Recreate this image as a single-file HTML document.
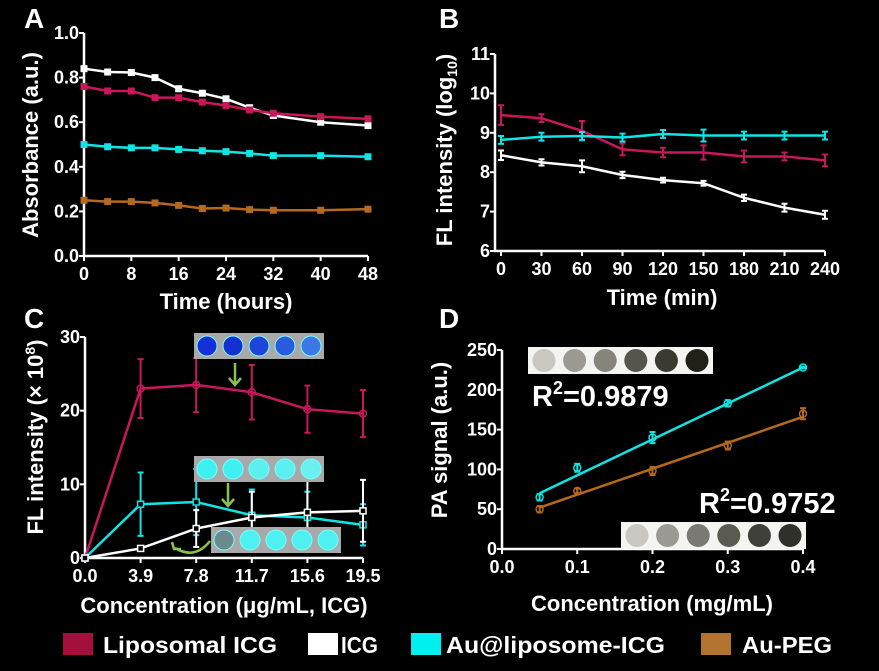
<!DOCTYPE html>
<html><head><meta charset="utf-8"><style>
html,body{margin:0;padding:0;background:#000;}
svg{display:block;font-family:"Liberation Sans",sans-serif;font-weight:bold;}
</style></head><body>
<svg id="fig" width="879" height="671" viewBox="0 0 879 671" xmlns="http://www.w3.org/2000/svg">
<rect width="879" height="671" fill="#000"/>
<text x="24" y="28" font-size="28" fill="#fff">A</text>
<text x="439" y="28" font-size="28" fill="#fff">B</text>
<text x="24" y="328" font-size="28" fill="#fff">C</text>
<text x="439" y="328" font-size="28" fill="#fff">D</text>
<g id="gA"></g>
<g id="gB"></g>
<g id="gC"></g>
<g id="gD"></g>
<g>
<rect x="63" y="633" width="30" height="22" fill="#a50f3c"/>
<text x="103" y="653" font-size="23" fill="#fff" textLength="174" lengthAdjust="spacingAndGlyphs">Liposomal ICG</text>
<rect x="308" y="633" width="30" height="22" fill="#fff"/>
<text x="341" y="653" font-size="23" fill="#fff" textLength="37" lengthAdjust="spacingAndGlyphs">ICG</text>
<rect x="411" y="633" width="30" height="22" fill="#00f0f0"/>
<text x="446" y="653" font-size="23" fill="#fff" textLength="219" lengthAdjust="spacingAndGlyphs">Au@liposome-ICG</text>
<rect x="701" y="633" width="30" height="22" fill="#b3732e"/>
<text x="742" y="653" font-size="23" fill="#fff" textLength="90" lengthAdjust="spacingAndGlyphs">Au-PEG</text>
</g>
</svg>
<script>
// ---------- Panel A data ----------
const aX = [0,4,8,12,16,20,24,28,32,40,48];
const aWhite = [0.84,0.825,0.823,0.80,0.75,0.73,0.705,0.665,0.63,0.60,0.585];
const aRed = [0.76,0.74,0.74,0.71,0.71,0.69,0.675,0.655,0.64,0.625,0.615];
const aCyan = [0.50,0.49,0.485,0.485,0.478,0.472,0.468,0.46,0.45,0.45,0.445];
const aOrange = [0.25,0.244,0.244,0.238,0.227,0.213,0.215,0.208,0.205,0.205,0.21];
const aXTicks = [0,8,16,24,32,40,48];
const aYTicks = ["0.0","0.2","0.4","0.6","0.8","1.0"];
// ---------- Panel B data ----------
const bX = [0,30,60,90,120,150,180,210,240];
const bRed = [9.45,9.37,9.05,8.58,8.5,8.5,8.4,8.4,8.3];
const bRedErr = [0.25,0.1,0.25,0.15,0.12,0.18,0.15,0.1,0.15];
const bCyan = [8.82,8.9,8.92,8.88,8.97,8.93,8.93,8.93,8.93];
const bCyanErr = [0.1,0.1,0.1,0.1,0.1,0.15,0.1,0.1,0.1];
const bWhite = [8.43,8.25,8.15,7.93,7.8,7.72,7.35,7.1,6.92];
const bWhiteErr = [0.12,0.08,0.15,0.08,0.06,0.06,0.08,0.1,0.1];
const bXTicks = [0,30,60,90,120,150,180,210,240];
const bYTicks = [6,7,8,9,10,11];
// ---------- Panel C data ----------
const cX = [0,3.9,7.8,11.7,15.6,19.5];
const cXTicks = ["0.0","3.9","7.8","11.7","15.6","19.5"];
const cYTicks = [0,10,20,30];
const cRed = [0,23,23.5,22.5,20.2,19.6];
const cRedErr = [0,4,3.7,3.7,3.2,3.2];
const cCyan = [0,7.3,7.6,5.8,5.5,4.5];
const cCyanErr = [0,4.3,4.5,3.5,3.5,2.8];
const cWhite = [0,1.3,4,5.5,6.2,6.4];
const cWhiteErr = [0,0.2,2.5,3.5,4.3,4.2];
// ---------- Panel D data ----------
const dX = [0.05,0.1,0.2,0.3,0.4];
const dCyan = [65,102,140,183,228];
const dCyanErr = [4,5,7,4,1];
const dOrange = [50,73,98,130,170];
const dOrangeErr = [4,3,5,5,7];
const dCyanFit = [70,228];
const dOrangeFit = [52,166];
const dXTicks = ["0.0","0.1","0.2","0.3","0.4"];
const dYTicks = [0,50,100,150,200,250];

const NS="http://www.w3.org/2000/svg";
const RED="#c8175a", CYAN="#10e4e4", WHITE="#ffffff", ORANGE="#b5691e";
function mk(parent, tag, attrs, txt){
  const e=document.createElementNS(NS,tag);
  for(const k in attrs) e.setAttribute(k,attrs[k]);
  if(txt!==undefined) e.textContent=txt;
  parent.appendChild(e); return e;
}
function lin(d0,d1,r0,r1){return v=>r0+(v-d0)*(r1-r0)/(d1-d0);}

function axes(g, x0,x1,y0,y1, xs, ys, xt, yt, xlab, ylab, xfmt, yfmt, fs){
  const ax=mk(g,'path',{d:`M${x0},${y1} L${x0},${y0} L${x1},${y0}`,stroke:'#fff','stroke-width':2.5,fill:'none'});
  
  
  xt.forEach(t=>{
    const v=parseFloat(t), x=xs(v);
    mk(g,'line',{x1:x,x2:x,y1:y0,y2:y0+5,stroke:'#fff','stroke-width':2});
    const tx=mk(g,'text',{x:x,y:y0+24,'font-size':fs,fill:'#fff','text-anchor':'middle'},xfmt?xfmt(t):t);
    
    
  });
  yt.forEach(t=>{
    const v=parseFloat(t), y=ys(v);
    mk(g,'line',{x1:x0-5,x2:x0,y1:y,y2:y,stroke:'#fff','stroke-width':2});
    const tx=mk(g,'text',{x:x0-5,y:y+6,'font-size':fs,fill:'#fff','text-anchor':'end'},yfmt?yfmt(t):t);
    
    
  });
  const xl=mk(g,'text',{x:xlab[1],y:xlab[2],'font-size':22,fill:'#fff','text-anchor':'middle'},xlab[0]);
  
  
  const yl=mk(g,'text',{x:0,y:0,'font-size':22,fill:'#fff','text-anchor':'middle',transform:`translate(${ylab[1]},${ylab[2]}) rotate(-90)`});
  
  
  if(typeof ylab[0]==='string') yl.textContent=ylab[0];
  else ylab[0].forEach(p=>{mk(yl,'tspan',p[1],p[0]);});
}
function series(g, name, xsArr, ysArr, errs, xs, ys, color, marker, w){
  const sg=mk(g,'g',{});
  
  
  if(errs) xsArr.forEach((xv,i)=>{
    if(!errs[i]) return;
    const x=xs(xv), ya=ys(ysArr[i]-errs[i]), yb=ys(ysArr[i]+errs[i]);
    mk(sg,'path',{d:`M${x},${ya} L${x},${yb} M${x-3},${ya} L${x+3},${ya} M${x-3},${yb} L${x+3},${yb}`,stroke:color,'stroke-width':2,fill:'none'});
  });
  const d=xsArr.map((xv,i)=>(i?'L':'M')+xs(xv)+','+ys(ysArr[i])).join(' ');
  const ln=mk(sg,'path',{d:d,stroke:color,'stroke-width':w||2.5,fill:'none'});
  
  
  xsArr.forEach((xv,i)=>{
    const x=xs(xv), y=ys(ysArr[i]);
    let m;
    if(marker==='sq') m=mk(sg,'rect',{x:x-3.5,y:y-3.5,width:7,height:7,fill:color});
    else if(marker==='osq') m=mk(sg,'rect',{x:x-3,y:y-3,width:6,height:6,fill:'#000',stroke:color,'stroke-width':1.5});
    else if(marker==='oc') m=mk(sg,'circle',{cx:x,cy:y,r:3.5,fill:'none',stroke:color,'stroke-width':1.5});
    else return;
    
    
  });
}

// Panel A
(function(){
  const g=document.getElementById('gA');
  const xs=lin(0,48,84,368), ys=lin(0,1,256,33);
  axes(g,84,368,256,33,xs,ys,aXTicks.map(String),aYTicks,['Time (hours)',226,309],['Absorbance (a.u.)',38,145],null,null,18);
  series(g,'a-series-icg',aX,aWhite,null,xs,ys,WHITE,'sq');
  series(g,'a-series-liposomal-icg',aX,aRed,null,xs,ys,RED,'sq');
  series(g,'a-series-au-liposome-icg',aX,aCyan,null,xs,ys,CYAN,'sq');
  series(g,'a-series-au-peg',aX,aOrange,null,xs,ys,ORANGE,'sq');
})();
// Panel B
(function(){
  const g=document.getElementById('gB');
  const xs=lin(0,240,501,825), ys=lin(6,11,251,54);
  axes(g,495,825,251,54,xs,ys,bXTicks.map(String),bYTicks.map(String),['Time (min)',662,305],
   [[['FL intensity (log',{}],['10',{'font-size':14,dy:5}],[')',{dy:-5}]],452,150],null,null,18);
  series(g,'b-series-liposomal-icg',bX,bRed,bRedErr,xs,ys,RED,null);
  series(g,'b-series-au-liposome-icg',bX,bCyan,bCyanErr,xs,ys,CYAN,null);
  series(g,'b-series-icg',bX,bWhite,bWhiteErr,xs,ys,WHITE,null);
})();
// Panel C
(function(){
  const g=document.getElementById('gC');
  const xs=lin(0,19.5,85,363), ys=lin(0,30,558,337);
  axes(g,85,363,558,337,xs,ys,cXTicks,cYTicks.map(String),['Concentration (μg/mL, ICG)',224,613],
   [[['FL intensity (× 10',{}],['8',{'font-size':14,dy:-8}],[')',{dy:8}]],43,437],null,null,18);
  function box(x,y,w,fills,name){
    const bg=mk(g,'g',{});
    
    
    mk(bg,'rect',{x:x,y:y,width:w,height:26,fill:'#a9a9a9'});
    fills.forEach((f,i)=>mk(bg,'circle',{cx:x+13+i*(w-26)/(fills.length-1),cy:y+13,r:10,fill:f,stroke:'#7ff','stroke-width':1}));
  }
  series(g,'c-series-liposomal-icg',cX,cRed,cRedErr,xs,ys,RED,'oc');
  series(g,'c-series-au-liposome-icg',cX,cCyan,cCyanErr,xs,ys,CYAN,'osq');
  series(g,'c-series-icg',cX,cWhite,cWhiteErr,xs,ys,WHITE,'osq');
  box(194,333,130,['#1530d8','#1430d0','#1d45d8','#2a5ae0','#3a78e8'],'inset-liposomal-icg-wells');
  box(194,456,130,['#3ef0f0','#3ef0f0','#5af0f0','#5af0f0','#6af0f0'],'inset-au-liposome-wells');
  box(211,527,130,['#6a8a90','#4ef0f0','#4ef0f0','#4ef0f0','#4ef0f0'],'inset-icg-wells');
  mk(g,'path',{d:'M235,363 L235,384 M229,378 L235,385 L241,378',stroke:'#8bc34a','stroke-width':2.5,fill:'none'});
  mk(g,'path',{d:'M228,483 L228,505 M222,499 L228,506 L234,499',stroke:'#8bc34a','stroke-width':2.5,fill:'none'});
  mk(g,'path',{d:'M210,541 Q195,560 175,548 M172,542 L174,549 L181,549',stroke:'#8bc34a','stroke-width':2.5,fill:'none'});
})();
// Panel D
(function(){
  const g=document.getElementById('gD');
  const xs=lin(0,0.4,502,803), ys=lin(0,250,549,350);
  axes(g,502,803,549,350,xs,ys,dXTicks,dYTicks.map(String),['Concentration (mg/mL)',652,611],['PA signal (a.u.)',447,440],null,null,18);
  series(g,'d-series-au-liposome-icg',dX,dCyan,dCyanErr,xs,ys,CYAN,'oc',0.001);
  series(g,'d-series-au-peg',dX,dOrange,dOrangeErr,xs,ys,ORANGE,'oc',0.001);
  const f1=mk(g,'line',{x1:xs(0.05),y1:ys(dCyanFit[0]),x2:xs(0.4),y2:ys(dCyanFit[1]),stroke:CYAN,'stroke-width':2.5});
  
  
  const f2=mk(g,'line',{x1:xs(0.05),y1:ys(dOrangeFit[0]),x2:xs(0.4),y2:ys(dOrangeFit[1]),stroke:ORANGE,'stroke-width':2.5});
  
  
  function box(x,y,fills,name){
    const bg=mk(g,'g',{});
    
    
    mk(bg,'rect',{x:x,y:y,width:185,height:27,fill:'#f4f4f0'});
    fills.forEach((f,i)=>mk(bg,'circle',{cx:x+16+i*30.6,cy:y+13.5,r:11.5,fill:f}));
  }
  box(528,347,['#c8c8c0','#9a9a92','#85857c','#55554c','#3a3a30','#202018'],'inset-au-liposome-pa-wells');
  box(621,522,['#c8c8c0','#9a9a92','#7a7a72','#5a5a50','#40403a','#30302a'],'inset-au-peg-pa-wells');
  const r1=mk(g,'text',{x:532,y:406,'font-size':29,fill:'#fff'});
  
  
  mk(r1,'tspan',{},'R'); mk(r1,'tspan',{'font-size':18,dy:-12},'2'); mk(r1,'tspan',{dy:12},'=0.9879');
  const r2=mk(g,'text',{x:699,y:513,'font-size':29,fill:'#fff'});
  
  
  mk(r2,'tspan',{},'R'); mk(r2,'tspan',{'font-size':18,dy:-12},'2'); mk(r2,'tspan',{dy:12},'=0.9752');
})();
</script>
</body></html>
